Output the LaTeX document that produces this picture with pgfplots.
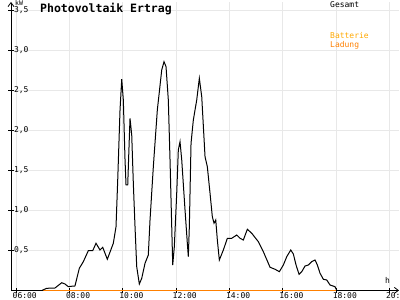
\documentclass[border=0pt]{standalone}
\usepackage{pgfplots}
\pgfplotsset{compat=1.18}
\usetikzlibrary{arrows.meta}
\usepackage{fontspec}
\setmonofont{DejaVu Sans Mono}
\definecolor{ladung}{RGB}{255,128,0}
\definecolor{batt}{RGB}{255,168,0}
\begin{document}
\begin{tikzpicture}[x=1pt,y=1pt]
\useasboundingbox (0,0) rectangle (400,300);
\begin{axis}[
  at={(11pt,9.6pt)}, anchor=south west,
  scale only axis, width=388pt, height=288.4pt,
  xmin=5.8125, xmax=20.36, ymin=0, ymax=3.605,
  axis lines=left,
  axis line style={line width=0.8pt, -{Straight Barb[length=4pt,width=6pt]}},
  xtick={6,8,10,12,14,16,18,20},
  xticklabels={06:00,08:00,10:00,12:00,14:00,16:00,18:00,20:00},
  ytick={0.5,1,1.5,2,2.5,3,3.5},
  yticklabels={{0,5},{1,0},{1,5},{2,0},{2,5},{3,0},{3,5}},
  tick align=center, major tick length=5pt,
  tick style={black, line width=0.8pt},
  grid=major, major grid style={gray!18, line width=0.5pt},
  tick label style={font=\ttfamily\fontsize{8}{8}\selectfont},
  yticklabel style={anchor=west, xshift=2pt},
  xticklabel style={anchor=north west, xshift=-4.5pt, yshift=2pt, inner sep=1pt},
  clip=false,
]
\addplot[ladung, line width=1.4pt] coordinates {(7.0,0) (18.0,0)};
\addplot[black, line width=1pt] coordinates {
(6.975,0) (7.151,0.026) (7.4625,0.03) (7.714,0.096) (7.8375,0.08) (7.961,0.046)
(8.051,0.051) (8.21,0.055) (8.374,0.276) (8.524,0.359) (8.711,0.496) (8.876,0.496)
(9.0,0.589) (9.15,0.505) (9.251,0.539) (9.424,0.389) (9.649,0.589) (9.75,0.796)
(9.814,1.38) (9.9,2.255) (9.964,2.64) (10.024,2.38) (10.088,1.63) (10.125,1.3175)
(10.189,1.3175) (10.2375,1.796) (10.275,2.151) (10.339,1.9425) (10.399,1.339)
(10.4625,0.796) (10.526,0.296) (10.624,0.08) (10.714,0.151) (10.8375,0.339)
(10.961,0.4425) (11.025,0.88) (11.149,1.546) (11.299,2.255) (11.464,2.755)
(11.55,2.859) (11.625,2.796) (11.711,2.38) (11.775,1.63) (11.839,0.796)
(11.876,0.3175) (11.936,0.546) (12.026,1.214) (12.086,1.755) (12.15,1.859)
(12.214,1.63) (12.3375,1.005) (12.424,0.589) (12.461,0.421) (12.499,0.796)
(12.5625,1.839) (12.649,2.13) (12.776,2.38) (12.874,2.651) (12.964,2.421)
(13.0875,1.671) (13.174,1.546) (13.275,1.214) (13.361,0.921) (13.425,0.839)
(13.489,0.88) (13.549,0.63) (13.624,0.38) (13.774,0.505) (13.924,0.651)
(14.089,0.651) (14.276,0.6925) (14.4,0.651) (14.524,0.63) (14.674,0.764)
(14.839,0.714) (15.086,0.609) (15.274,0.484) (15.525,0.289) (15.7125,0.264)
(15.874,0.234) (16.024,0.3175) (16.151,0.421) (16.301,0.505) (16.399,0.455)
(16.5,0.3175) (16.6125,0.201) (16.714,0.234) (16.8375,0.305) (16.961,0.3175)
(17.089,0.359) (17.2125,0.38) (17.299,0.3175) (17.4,0.214) (17.524,0.139)
(17.651,0.13) (17.775,0.0675) (17.9625,0.046) (18.026,0.0)
};
\end{axis}
\node[anchor=north west, inner sep=0pt, font=\ttfamily\bfseries\fontsize{11.5}{11.5}\selectfont] at (40,297) {Photovoltaik Ertrag};
\node[anchor=north west, inner sep=0pt, font=\ttfamily\fontsize{6.5}{6.5}\selectfont] at (15,299.3) {kW};
\node[anchor=south west, inner sep=0pt, font=\ttfamily\fontsize{8}{8}\selectfont] at (385,16) {h};
\node[anchor=north west, inner sep=0pt, font=\ttfamily\fontsize{8}{8}\selectfont] at (330,298.5) {Gesamt};
\node[anchor=north west, inner sep=0pt, font=\ttfamily\fontsize{8}{8}\selectfont, text=batt] at (330,267.5) {Batterie};
\node[anchor=north west, inner sep=0pt, font=\ttfamily\fontsize{8}{8}\selectfont, text=ladung] at (330,259) {Ladung};
\end{tikzpicture}
\end{document}
